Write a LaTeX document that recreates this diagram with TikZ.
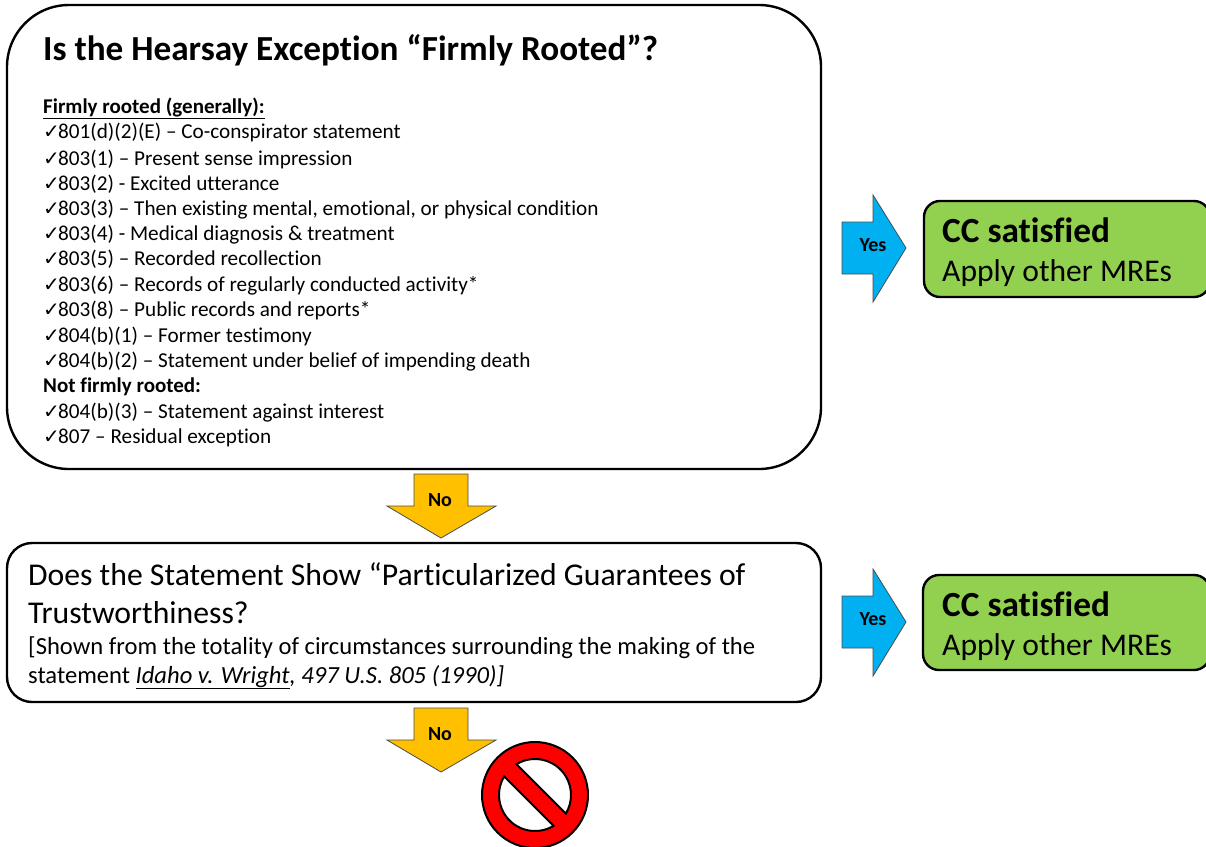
\documentclass[tikz,border=0pt]{standalone}
\usepackage{fontspec}
\setmainfont[Ligatures=NoCommon]{Carlito}
\newfontfamily\symfont{DejaVu Sans}
\definecolor{arrowgold}{HTML}{FFC000}
\definecolor{arrowblue}{HTML}{00B0F0}
\definecolor{boxgreen}{HTML}{92D050}
\newcommand{\ck}{\makebox[15pt][l]{\symfont\fontsize{20}{20}\selectfont ✓}}
\tikzset{
  qbox/.style={draw=black,fill=white,line width=2.4pt,inner sep=0pt},
  greenbox/.style={draw=black,fill=boxgreen,line width=2.4pt,rounded corners=16pt,inner sep=0pt},
  blockarrow/.style={draw=black!70,line width=0.8pt,line join=miter},
  arrowlabel/.style={font=\fontsize{20}{20}\selectfont\bfseries,inner sep=0pt},
  title/.style={anchor=base west,inner sep=0pt,font=\fontsize{35.2}{35.2}\selectfont\bfseries},
  item/.style={anchor=base west,inner sep=0pt,font=\fontsize{21.2}{21.2}\selectfont},
  bitem/.style={item,font=\fontsize{21}{21}\selectfont\bfseries},
  qtext/.style={anchor=base west,inner sep=0pt,font=\fontsize{31.7}{31.7}\selectfont},
  stext/.style={anchor=base west,inner sep=0pt,font=\fontsize{24.6}{24.6}\selectfont},
  gbold/.style={anchor=base west,inner sep=0pt,font=\fontsize{35.3}{35.3}\selectfont\bfseries},
  gtext/.style={anchor=base west,inner sep=0pt,font=\fontsize{31.6}{31.6}\selectfont},
}
\begin{document}
\begin{tikzpicture}[x=1pt,y=-1pt]
\useasboundingbox[fill=white] (0,0) rectangle (1206,846);
% question boxes
\node[qbox,rounded corners=62pt,minimum width=814pt,minimum height=464pt] (q1) at (414,237) {};
\node[qbox,rounded corners=25pt,minimum width=814pt,minimum height=159pt] (q2) at (414,622.5) {};
% result boxes
\draw[greenbox] (924,201) rectangle (1210,297);
\draw[greenbox] (923,575) rectangle (1210,670);
% first box text
\node[title] (t1) at (43,60) {Is the Hearsay Exception “Firmly Rooted”?};
\node[bitem] (h1) at (43,113) {\underline{Firmly rooted (generally):}};
\node[item] (i1) at (43,138) {\ck 801(d)(2)(E) – Co-conspirator statement};
\node[item] (i2) at (43,165) {\ck 803(1) – Present sense impression};
\node[item] (i3) at (43,190) {\ck 803(2) - Excited utterance};
\node[item] (i4) at (43,215) {\ck 803(3) – Then existing mental, emotional, or physical condition};
\node[item] (i5) at (43,240) {\ck 803(4) - Medical diagnosis \& treatment};
\node[item] (i6) at (43,265) {\ck 803(5) – Recorded recollection};
\node[item] (i7) at (43,291) {\ck 803(6) – Records of regularly conducted activity*};
\node[item] (i8) at (43,316) {\ck 803(8) – Public records and reports*};
\node[item] (i9) at (43,342) {\ck 804(b)(1) – Former testimony};
\node[item] (i10) at (43,367) {\ck 804(b)(2) – Statement under belief of impending death};
\node[bitem] (h2) at (43,392) {Not firmly rooted:};
\node[item] (i11) at (43,418) {\ck 804(b)(3) – Statement against interest};
\node[item] (i12) at (43,443) {\ck 807 – Residual exception};
% second box text
\node[qtext] (q2a) at (28,585) {Does the Statement Show “Particularized Guarantees of};
\node[qtext] (q2b) at (28,623) {Trustworthiness?};
\node[stext] (q2c) at (28,654) {[Shown from the totality of circumstances surrounding the making of the};
\node[stext] (q2d) at (28,683) {statement \underline{\textit{Idaho v. Wright}}\textit{, 497 U.S. 805 (1990)]}};
% result text
\node[gbold] (g1a) at (942,242) {CC satisfied};
\node[gtext] (g1b) at (942,281) {Apply other MREs};
\node[gbold] (g2a) at (942,616) {CC satisfied};
\node[gtext] (g2b) at (942,655) {Apply other MREs};
% block arrows
\draw[blockarrow,fill=arrowgold] (414,474) -- (468,474) -- (468,506) -- (496,506) -- (441,538) -- (387,506) -- (414,506) -- cycle;
\draw[blockarrow,fill=arrowgold] (414,708) -- (468,708) -- (468,740) -- (496,740) -- (441,772) -- (387,740) -- (414,740) -- cycle;
\draw[blockarrow,fill=arrowblue] (842,222) -- (873,222) -- (873,195) -- (906,248) -- (873,302) -- (873,274) -- (842,274) -- cycle;
\draw[blockarrow,fill=arrowblue] (842,596) -- (873,596) -- (873,569) -- (906,622) -- (873,676) -- (873,648) -- (842,648) -- cycle;
\node[arrowlabel] (n1) at (440,500) {No};
\node[arrowlabel] (n2) at (440,734) {No};
\node[arrowlabel] (y1) at (873,245) {Yes};
\node[arrowlabel] (y2) at (873,619) {Yes};
% prohibition sign
\begin{scope}[shift={(535,795)},rotate=-45]
\fill[red,draw=black,line width=2pt] (0,0) circle[radius=53];
\draw[black,line width=2pt,fill=white] (14:36) arc[start angle=14,end angle=166,radius=36] -- cycle;
\draw[black,line width=2pt,fill=white] (194:36) arc[start angle=194,end angle=346,radius=36] -- cycle;
\end{scope}
\end{tikzpicture}
\end{document}
